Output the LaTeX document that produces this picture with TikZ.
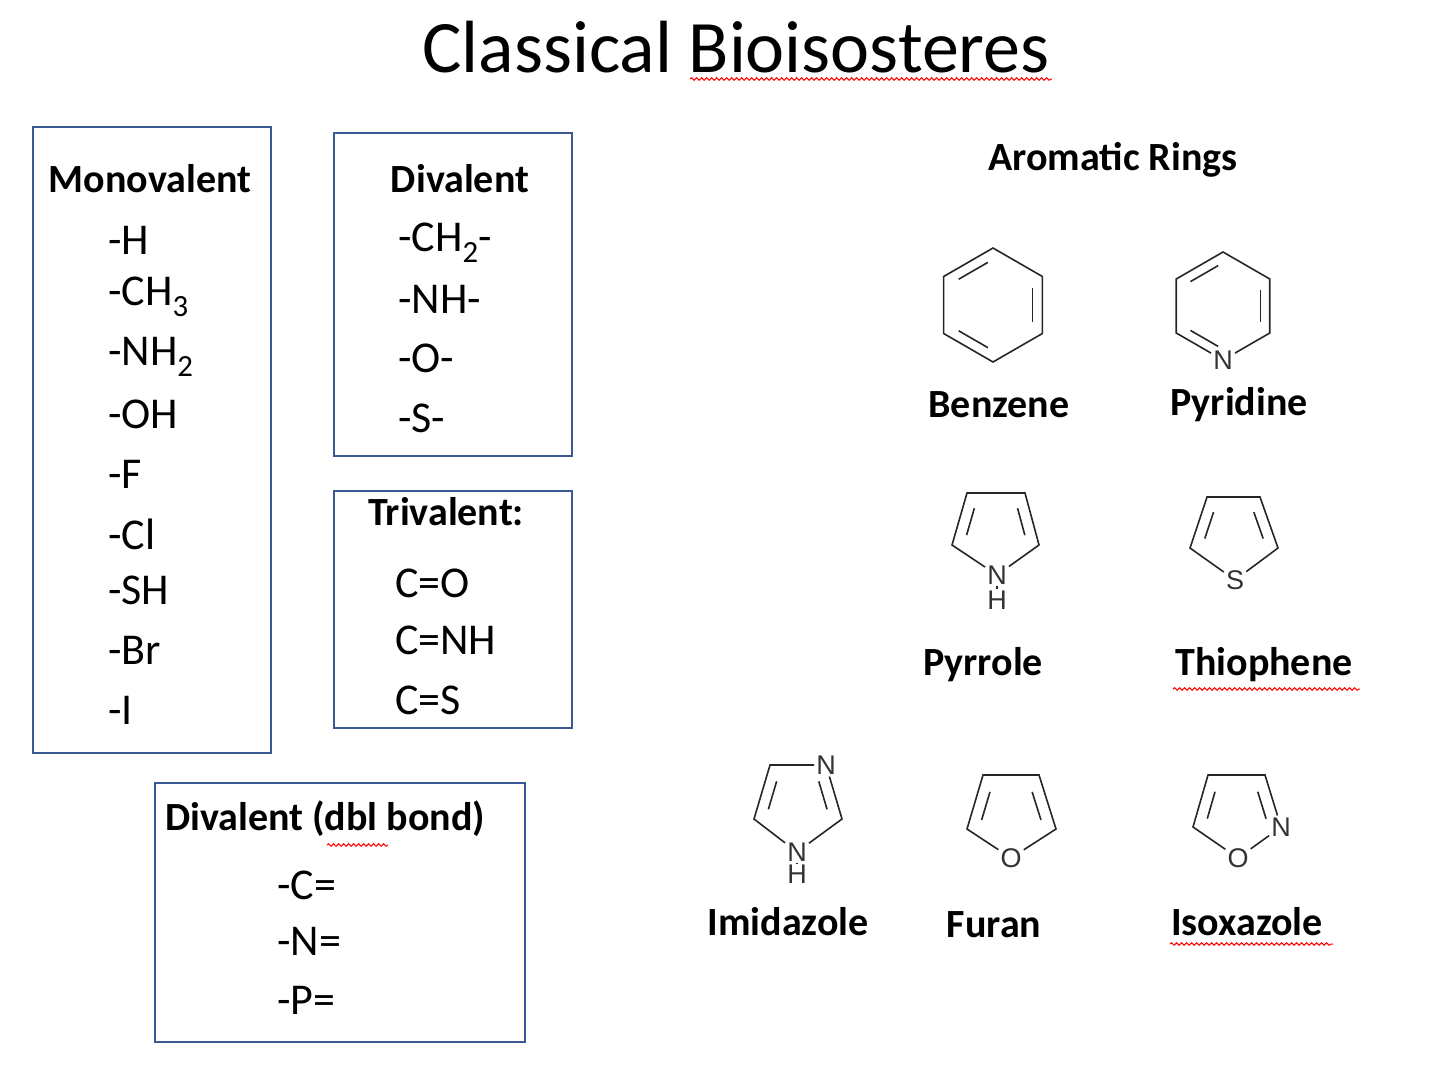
\documentclass[tikz,border=0pt]{standalone}
\usepackage{fontspec}
\setmainfont{Carlito}
\newfontfamily\atomfont{Liberation Sans}
\usetikzlibrary{decorations.pathmorphing,calc}
\definecolor{boxblue}{HTML}{3A5A95}
\newcommand\dblb[4]{\draw[bond] ($($(#1)!0.13!(#2)$)!#4!(#3)$) -- ($($(#1)!0.87!(#2)$)!#4!(#3)$);}
\begin{document}
\begin{tikzpicture}[x=1pt,y=-1pt,
  box/.style={draw=boxblue,line width=1.6pt},
  head/.style={font=\fontsize{40}{44}\selectfont\bfseries,inner sep=0pt},
  item/.style={font=\fontsize{44}{48}\selectfont,anchor=west,inner sep=0pt},
  bond/.style={line width=1.6pt,black!85},
  atom/.style={font=\atomfont\fontsize{27}{27}\selectfont,inner sep=2pt,text=black!80},
  squig/.style={red,line width=1pt,decorate,decoration={snake,amplitude=1.3pt,segment length=5pt}}]
\useasboundingbox (0,0) rectangle (1440,1076);
\node[inner sep=0pt,font=\fontsize{74}{80}\selectfont] (title) at (736,47) {Classical Bioisosteres};
\draw[squig] (690,79) -- (1052,79);
% boxes
\draw[box] (33,127) rectangle (271,753);
\draw[box] (334,133) rectangle (572,456);
\draw[box] (334,491) rectangle (572,728);
\draw[box] (155,783) rectangle (525,1042);
\node[head] (mono) at (150,179) {Monovalent};
\foreach \t/\y [count=\i] in {-H/240,-CH\textsubscript{3}/297,-NH\textsubscript{2}/357,-OH/414,-F/474,-Cl/534,-SH/590,-Br/650,-I/710}
  \node[item] (m\i) at (108,\y) {\t};
\node[head] (div) at (460,179) {Divalent};
\foreach \t/\y [count=\i] in {-CH\textsubscript{2}-/243,-NH-/299,-O-/358,-S-/418}
  \node[item] (d\i) at (398,\y) {\t};
\node[head] (tri) at (446,512) {Trivalent:};
\foreach \t/\y [count=\i] in {C=O/583,C=NH/640,C=S/700}
  \node[item] (t\i) at (395,\y) {\t};
\node[head] (dbl) at (325,819) {Divalent (dbl bond)};
\draw[squig] (327,845) -- (388,845);
\foreach \t/\y [count=\i] in {-C=/885,-N=/941,-P=/1000}
  \node[item] (b\i) at (277,\y) {\t};
% aromatic
\node[head] (arom) at (1113,160) {Aromatic Rings};
% benzene
\coordinate (bzc) at (993,305);
\foreach \a in {30,90,...,330} \coordinate (bz\a) at ($(bzc)+(\a:57)$);
\draw[bond] (bz30) -- (bz90) -- (bz150) -- (bz210) -- (bz270) -- (bz330) -- cycle;
\dblb{bz90}{bz150}{bzc}{0.2}
\dblb{bz210}{bz270}{bzc}{0.2}
\dblb{bz330}{bz30}{bzc}{0.2}
\node[head] (benzl) at (999,405) {Benzene};
% pyridine
\coordinate (pyc) at (1223,306);
\foreach \a in {30,90,...,330} \coordinate (py\a) at ($(pyc)+(\a:54)$);
\node[atom] (pyN) at (py90) {N};
\draw[bond] (pyN) -- (py30) -- (py330) -- (py270) -- (py210) -- (py150) -- (pyN);
\dblb{py270}{py210}{pyc}{0.2}
\dblb{py330}{py30}{pyc}{0.2}
\dblb{py150}{py90}{pyc}{0.2}
\node[head] (pyrl) at (1239,405) {Pyridine};
% pyrrole
\coordinate (prc) at (996,528);
\coordinate (prTL) at (967,493); \coordinate (prTR) at (1025,493);
\coordinate (prR) at (1039,545); \coordinate (prL) at (952,545);
\node[atom] (prN) at (997,575) {N};
\node[atom] (prH) at (997,600) {H};
\draw[bond] (prN) -- (prL) -- (prTL) -- (prTR) -- (prR) -- (prN);
\draw[bond] (prN) -- (prH);
\dblb{prL}{prTL}{prc}{0.3}
\dblb{prTR}{prR}{prc}{0.3}
\node[head] (pyrrl) at (983,665) {Pyrrole};
% thiophene
\coordinate (thc) at (1234,532);
\coordinate (thTL) at (1207,497); \coordinate (thTR) at (1260,497);
\coordinate (thR) at (1278,548); \coordinate (thL) at (1190,548);
\node[atom] (thS) at (1235,580) {S};
\draw[bond] (thS) -- (thL) -- (thTL) -- (thTR) -- (thR) -- (thS);
\dblb{thL}{thTL}{thc}{0.3}
\dblb{thTR}{thR}{thc}{0.3}
\node[head] (thiol) at (1264,665) {Thiophene};
\draw[squig] (1173,689) -- (1360,689);
% imidazole
\coordinate (imc) at (797,803);
\coordinate (imTL) at (770,765); \coordinate (imR) at (842,819); \coordinate (imL) at (754,819);
\node[atom] (imN1) at (826,765) {N};
\node[atom] (imN3) at (797,852) {N};
\node[atom] (imH) at (797,874) {H};
\draw[bond] (imN3) -- (imL) -- (imTL) -- (imN1) -- (imR) -- (imN3);
\draw[bond] (imN3) -- (imH);
\dblb{imL}{imTL}{imc}{0.3}
\dblb{imN1}{imR}{imc}{0.3}
\node[head] (imil) at (788,922) {Imidazole};
% furan
\coordinate (fuc) at (1011,815);
\coordinate (fuTL) at (983,775); \coordinate (fuTR) at (1039,775);
\coordinate (fuR) at (1056,829); \coordinate (fuL) at (967,829);
\node[atom] (fuO) at (1011,858) {O};
\draw[bond] (fuO) -- (fuL) -- (fuTL) -- (fuTR) -- (fuR) -- (fuO);
\dblb{fuL}{fuTL}{fuc}{0.3}
\dblb{fuTR}{fuR}{fuc}{0.3}
\node[head] (furl) at (994,925) {Furan};
% isoxazole
\coordinate (isc) at (1236,815);
\coordinate (isTL) at (1208,775); \coordinate (isTR) at (1265,775); \coordinate (isL) at (1193,827);
\node[atom] (isN) at (1281,827) {N};
\node[atom] (isO) at (1238,858) {O};
\draw[bond] (isO) -- (isL) -- (isTL) -- (isTR) -- (isN) -- (isO);
\dblb{isL}{isTL}{isc}{0.3}
\dblb{isTR}{isN}{isc}{0.3}
\node[head] (isol) at (1247,922) {Isoxazole};
\draw[squig] (1170,944) -- (1333,944);
\end{tikzpicture}
\end{document}
